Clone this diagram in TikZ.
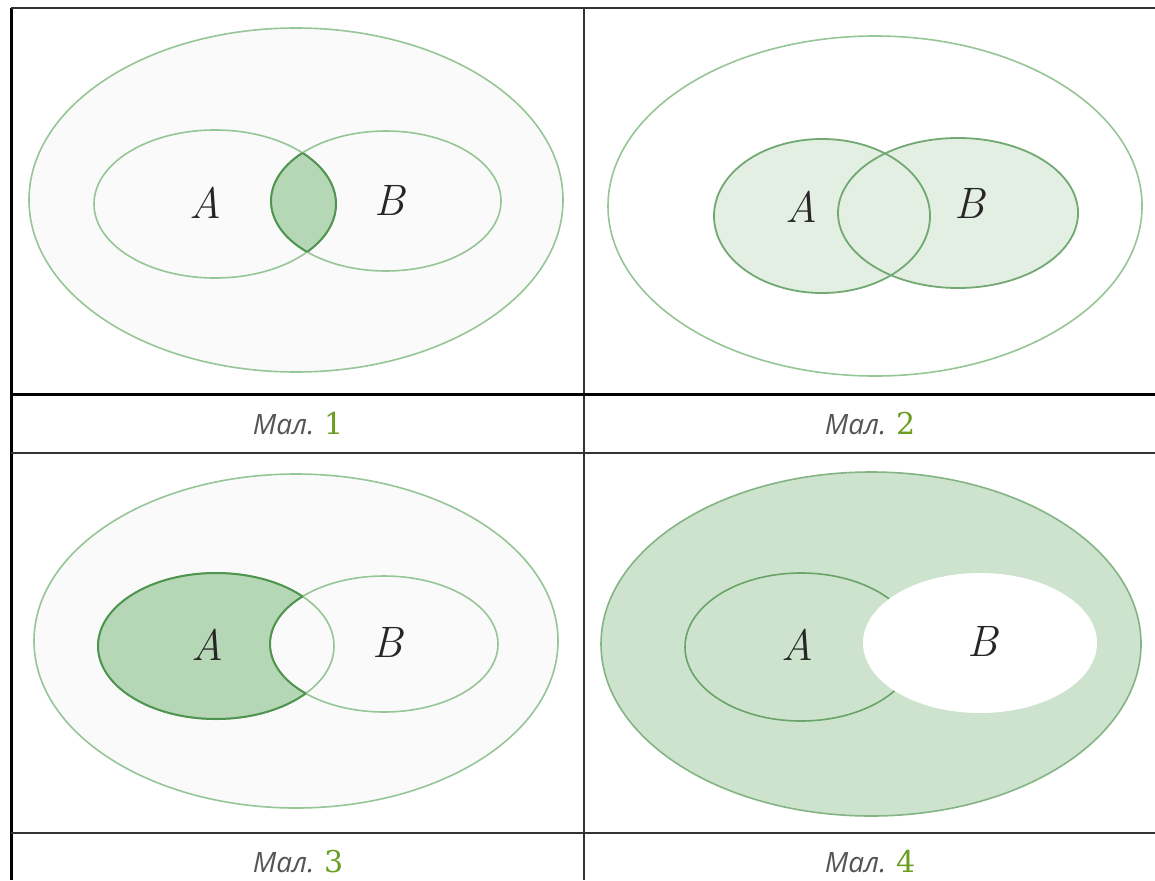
\documentclass[tikz,border=0pt]{standalone}
\usepackage{fontspec}
\newfontfamily\capfont{Open Sans}
\newfontfamily\numfont{DejaVu Serif}
\definecolor{lstroke}{HTML}{96C596}
\definecolor{dstroke}{HTML}{4F944F}
\definecolor{lfill}{HTML}{E3EFE3}
\definecolor{dfill}{HTML}{B6D7B6}
\definecolor{ffill}{HTML}{CDE3CD}
\definecolor{bg}{HTML}{FAFAFA}
\definecolor{numgreen}{HTML}{6A9E1F}
\definecolor{capgray}{HTML}{555555}
\tikzset{
  setlabel/.style={font=\itshape\fontsize{44}{48}\selectfont, text=black!85},
  caption/.style={font=\capfont\itshape\fontsize{28}{32}\selectfont, text=capgray},
  lightline/.style={draw=lstroke, line width=1.6pt},
  darkline/.style={draw=dstroke, line width=2pt},
  gridline/.style={draw=black!80, line width=2pt},
}
\newcommand{\capnum}[1]{{\numfont\upshape\fontsize{30}{32}\selectfont\color{numgreen}#1}}
\begin{document}
\begin{tikzpicture}[x=1pt,y=-1pt]
\useasboundingbox (0,0) rectangle (1155,880);
\fill[white] (0,0) rectangle (1155,880);

% ---------- Panel 1 ----------
\path[fill=bg, lightline] (296,200) ellipse [x radius=267, y radius=172];
\begin{scope}
  \clip (215,204) ellipse [x radius=121, y radius=74];
  \fill[dfill] (386,201) ellipse [x radius=115, y radius=70];
\end{scope}
\path[lightline] (215,204) ellipse [x radius=121, y radius=74];
\path[lightline] (386,201) ellipse [x radius=115, y radius=70];
\begin{scope}
  \clip (215,204) ellipse [x radius=121, y radius=74];
  \path[darkline] (386,201) ellipse [x radius=115, y radius=70];
\end{scope}
\begin{scope}
  \clip (386,201) ellipse [x radius=115, y radius=70];
  \path[darkline] (215,204) ellipse [x radius=121, y radius=74];
\end{scope}
\node[setlabel] (a1) at (205,203) {A};
\node[setlabel] (b1) at (390,200) {B};

% ---------- Panel 2 ----------
\path[fill=white, lightline] (875,206) ellipse [x radius=267, y radius=170];
\fill[lfill] (822,216) ellipse [x radius=108, y radius=77];
\fill[lfill] (958,213) ellipse [x radius=120, y radius=75];
\path[draw=dstroke!80, line width=1.8pt] (822,216) ellipse [x radius=108, y radius=77];
\path[draw=dstroke!80, line width=1.8pt] (958,213) ellipse [x radius=120, y radius=75];
\node[setlabel] (a2) at (801,207) {A};
\node[setlabel] (b2) at (970,203) {B};

% ---------- Panel 3 ----------
\path[fill=bg, lightline] (296,641) ellipse [x radius=262, y radius=167];
\begin{scope}[even odd rule]
  \path[clip] (0,0) rectangle (1155,880) (384,644) ellipse [x radius=114, y radius=68];
  \fill[dfill] (216,646) ellipse [x radius=118, y radius=73];
\end{scope}
\path[lightline] (216,646) ellipse [x radius=118, y radius=73];
\path[lightline] (384,644) ellipse [x radius=114, y radius=68];
\begin{scope}[even odd rule]
  \path[clip] (0,0) rectangle (1155,880) (384,644) ellipse [x radius=114, y radius=68];
  \path[darkline] (216,646) ellipse [x radius=118, y radius=73];
\end{scope}
\begin{scope}
  \clip (216,646) ellipse [x radius=118, y radius=73];
  \path[darkline] (384,644) ellipse [x radius=114, y radius=68];
\end{scope}
\node[setlabel] (a3) at (207,645) {A};
\node[setlabel] (b3) at (388,642) {B};

% ---------- Panel 4 ----------
\path[fill=ffill, draw=dstroke!70, line width=1.6pt] (871,644) ellipse [x radius=270, y radius=172];
\path[draw=dstroke!85, line width=1.6pt] (801,647) ellipse [x radius=116, y radius=74];
\fill[white] (980,643) ellipse [x radius=117, y radius=70];
\node[setlabel] (a4) at (797,645) {A};
\node[setlabel] (b4) at (983,641) {B};

% ---------- Grid ----------
\draw[draw=black, line width=3pt] (11,8) -- (11,880);
\draw[gridline] (11,8) -- (1155,8);
\draw[gridline] (584,8) -- (584,880);
\draw[draw=black, line width=3pt] (11,394) -- (1155,394);
\draw[gridline] (11,453) -- (1155,453);
\draw[gridline] (11,833) -- (1155,833);

% ---------- Captions ----------
\node[caption] (c1) at (298,424) {Мал. \capnum{1}};
\node[caption] (c2) at (870,424) {Мал. \capnum{2}};
\node[caption] (c3) at (298,862) {Мал. \capnum{3}};
\node[caption] (c4) at (870,862) {Мал. \capnum{4}};
\end{tikzpicture}
\end{document}
